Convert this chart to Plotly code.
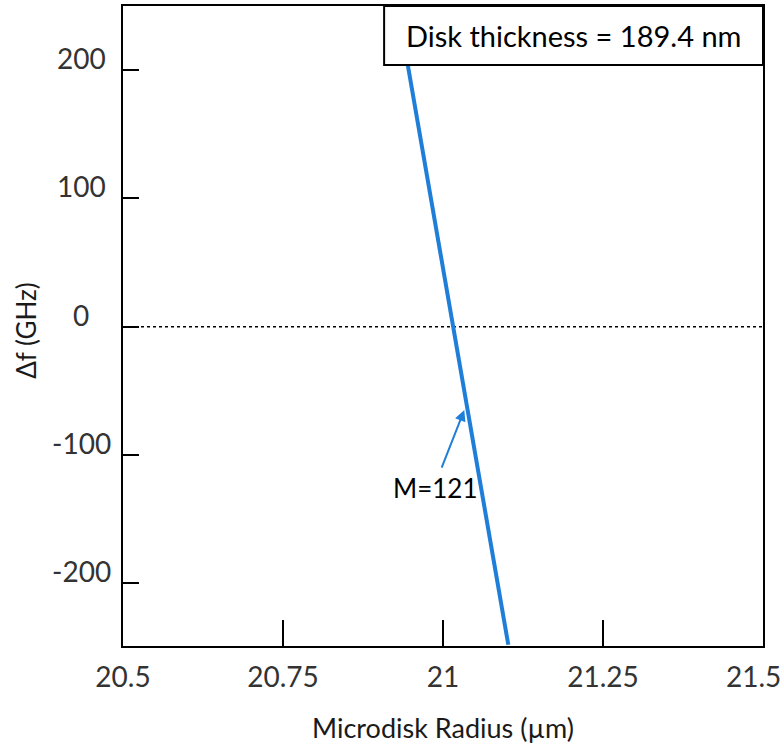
import plotly.graph_objects as go

# Resonance detuning vs. microdisk radius (mode M=121)
radius_um = [20.929, 21.016, 21.102]
delta_f_ghz = [250, 0, -248]

x_tick_vals = [20.5, 20.75, 21, 21.25]
x_tick_text = ["20.5", "20.75", "21", "21.25"]
y_tick_vals = [-200, -100, 0, 100, 200]
y_tick_text = ["-200", "-100", "0", "100", "200"]

FONT = "Lato"
TICK_COLOR = "#333333"
TITLE_COLOR = "#1a1a1a"
LINE_BLUE = "#1f7fd8"
TICK_SIZE = 28

fig = go.Figure()

# zero-detuning reference
fig.add_trace(go.Scatter(
    x=[20.5, 21.5], y=[0, 0], mode="lines",
    line=dict(color="black", width=1.5, dash="dot"),
    hoverinfo="skip", showlegend=False,
))

fig.add_trace(go.Scatter(
    x=radius_um, y=delta_f_ghz, mode="lines",
    line=dict(color=LINE_BLUE, width=4),
    showlegend=False,
))

fig.update_layout(
    width=784, height=751,
    margin=dict(l=123, r=21, t=6, b=105),
    paper_bgcolor="white", plot_bgcolor="white",
    font=dict(family=FONT, size=TICK_SIZE, color=TICK_COLOR),
    xaxis=dict(
        range=[20.5, 21.5], tickvals=x_tick_vals, ticktext=x_tick_text,
        ticks="inside", ticklen=26, tickwidth=2, tickcolor="black",
        showline=True, linecolor="black", linewidth=2, mirror=True,
        showgrid=False, zeroline=False, automargin=False,
        ticklabelstandoff=5,
        title=dict(text="Microdisk Radius (µm)", standoff=28,
                   font=dict(family=FONT, size=27, color=TITLE_COLOR)),
    ),
    yaxis=dict(
        range=[-249, 250], tickvals=y_tick_vals,
        ticks="inside", ticklen=16, tickwidth=2, tickcolor="black",
        showline=True, linecolor="black", linewidth=2, mirror=True,
        showgrid=False, zeroline=False, automargin=False,
        showticklabels=False,
    ),
)

# y tick labels, centred in a column left of the axis and raised above the ticks
for val, txt in zip(y_tick_vals, y_tick_text):
    fig.add_annotation(
        x=-0.0656, y=val, xref="x domain", yref="y", text=txt,
        showarrow=False, xanchor="center", yanchor="middle", yshift=12,
        font=dict(family=FONT, size=TICK_SIZE, color=TICK_COLOR),
    )

# y axis title
fig.add_annotation(
    x=-0.151, y=0.493, xref="x domain", yref="y domain", text="Δf (GHz)",
    showarrow=False, textangle=-90, xanchor="center", yanchor="middle",
    font=dict(family=FONT, size=26, color=TITLE_COLOR),
)

# last x tick label sits slightly inside the right edge
fig.add_annotation(
    x=21.5, y=0, xref="x", yref="paper", text="21.5",
    showarrow=False, xshift=-10, xanchor="center", yanchor="top", yshift=-11,
    font=dict(family=FONT, size=TICK_SIZE, color=TICK_COLOR),
)

# label box
fig.add_shape(
    type="rect", xref="x domain", yref="y domain",
    x0=0.408, x1=1.0, y0=0.908, y1=1.0,
    fillcolor="white", line=dict(color="black", width=2), layer="above",
)
fig.add_annotation(
    x=0.704, y=0.954, xref="x domain", yref="y domain",
    xanchor="center", yanchor="middle",
    text="Disk thickness = 189.4 nm", showarrow=False,
    font=dict(family=FONT, size=29, color="black"),
)

# mode label with arrow
fig.add_annotation(
    x=21.0333, y=-65, ax=20.997, ay=-111, xref="x", yref="y",
    axref="x", ayref="y", text="", showarrow=True,
    arrowhead=2, arrowsize=1.1, arrowwidth=2, arrowcolor=LINE_BLUE,
)
fig.add_annotation(
    x=20.9869, y=-126, xref="x", yref="y", text="M=121", showarrow=False,
    xanchor="center", yanchor="middle",
    font=dict(family=FONT, size=26, color="black"),
)

fig.write_html("out.html")
